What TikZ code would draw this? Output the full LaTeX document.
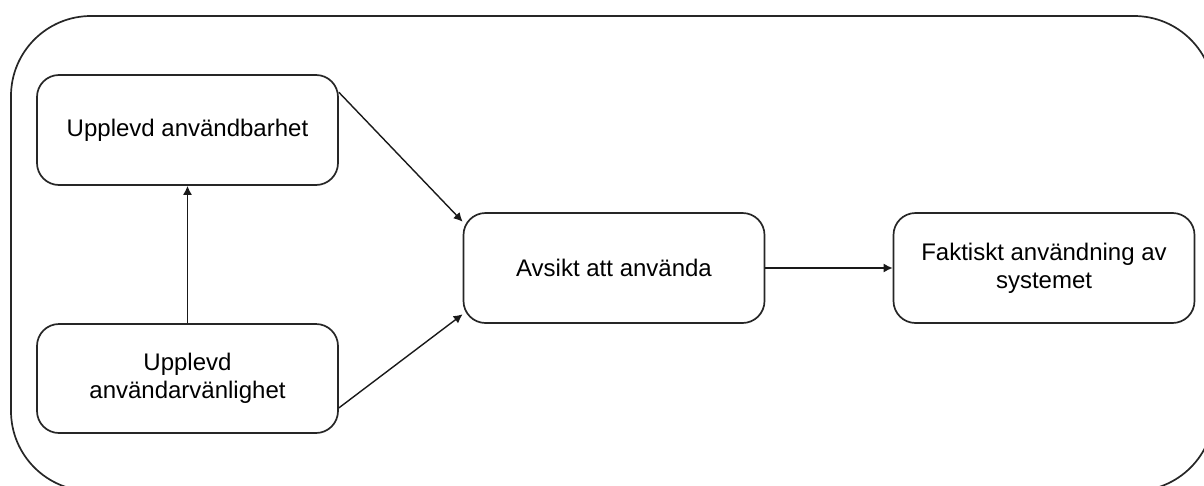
\documentclass[tikz,border=0pt]{standalone}
\usepackage{fontspec}
\setmainfont{Liberation Sans}
\usetikzlibrary{arrows.meta}

\tikzset{
  stagebox/.style={draw=black!85, line width=1.7pt, rounded corners=22pt,
    minimum width=301pt, minimum height=110pt, align=center, inner sep=0pt,
    font=\fontsize{24}{28}\selectfont},
  flow/.style={draw=black!90, line width=1.4pt,
    -{Latex[length=9pt,width=9pt]}},
  frame/.style={draw=black!85, line width=1.7pt, rounded corners=80pt}
}

\begin{document}
\begin{tikzpicture}[x=1pt, y=-1pt]
  \useasboundingbox (0,0) rectangle (1204,485);
  \clip (0,0) rectangle (1204,485);

  % surrounding frame (runs past the right and bottom edges)
  \draw[frame] (11,16) rectangle (1214,491);

  % stages of the model
  \node[stagebox] (usefulness) at (187.5,130) {Upplevd användbarhet};
  \node[stagebox, minimum height=109pt] (easeofuse) at (187.5,378.5) {Upplevd\\användarvänlighet};
  \node[stagebox] (intention) at (614,268) {Avsikt att använda};
  \node[stagebox] (actualuse) at (1044,268) {Faktiskt användning av\\systemet};

  % relations
  \draw[flow] (easeofuse) -- (usefulness);
  \draw[flow] (usefulness.14) -- (intention.163);
  \draw[flow] (easeofuse.-11) -- (intention.197);
  \draw[flow] (intention) -- (actualuse);
\end{tikzpicture}
\end{document}
